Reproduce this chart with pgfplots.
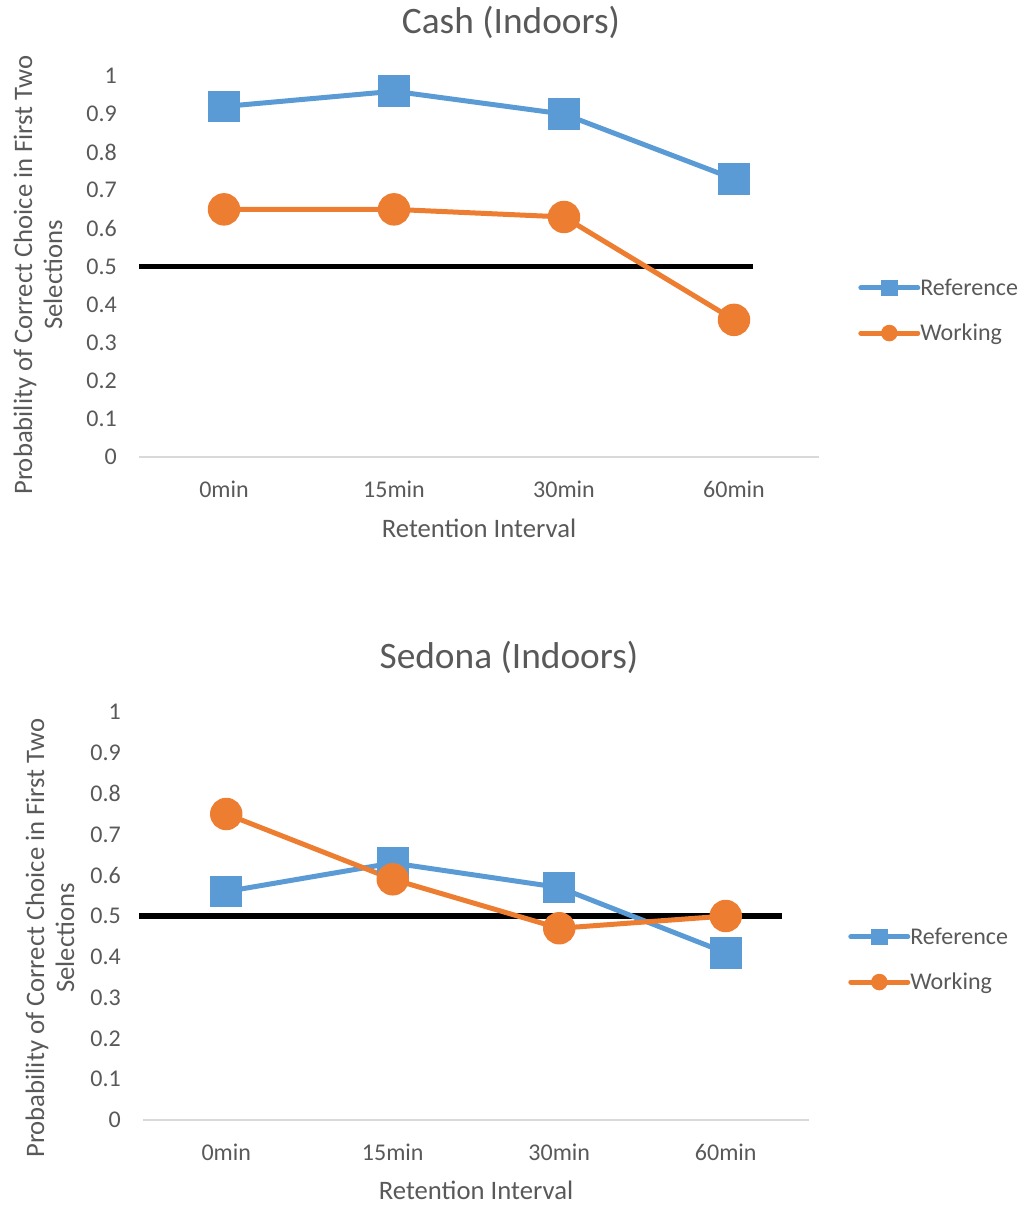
\documentclass[border=0pt]{standalone}
\usepackage{pgfplots}
\pgfplotsset{compat=1.18}
\usepackage{fontspec}
\setmainfont{Carlito}
\definecolor{blueS}{HTML}{5B9BD5}
\definecolor{orangeS}{HTML}{ED7D31}
\definecolor{txt}{HTML}{595959}
\definecolor{axg}{HTML}{D9D9D9}
\pgfplotsset{
  excel/.style={
    scale only axis,
    xmin=-0.5, xmax=3.5, ymin=0, ymax=1,
    clip=false,
    axis lines*=left,
    axis line style={-},
    x axis line style={draw=axg, line width=1.2pt},
    y axis line style={draw=none},
    major tick length=0pt,
    xtick={0,1,2,3},
    xticklabels={0min,15min,30min,60min},
    ytick={0,0.1,0.2,0.3,0.4,0.5,0.6,0.7,0.8,0.9,1},
    yticklabels={0,0.1,0.2,0.3,0.4,0.5,0.6,0.7,0.8,0.9,1},
    ticklabel style={font=\fontsize{18}{22}\selectfont, text=txt},
    xticklabel style={anchor=north, inner sep=0pt, yshift=-18pt},
    yticklabel style={anchor=east, inner sep=0pt, xshift=-16.5pt},
    label style={font=\fontsize{20}{22.5}\selectfont, text=txt},
    title style={font=\fontsize{28}{32}\selectfont, text=txt, anchor=center},
    xlabel={Retention Interval},
    ylabel={Probability of Correct Choice in First Two\\Selections},
    ylabel style={align=center, anchor=center, rotate=0},
    legend style={draw=none, fill=none, inner sep=0pt, anchor=west,
      font=\fontsize{18}{22}\selectfont, text=txt, row sep=17pt,
      nodes={inner xsep=0pt, inner ysep=1.5pt}},
    legend cell align=left,
    legend image code/.code={\draw[##1, mark repeat=2, mark phase=2, mark size=4.3pt, line cap=round]
       plot coordinates {(0pt,0pt) (21.4pt,0pt) (42.75pt,0pt)};},
  },
  refser/.style={color=blueS, line width=3.75pt, mark=square*, mark size=10pt, mark options={draw=none}},
  workser/.style={color=orangeS, line width=3.75pt, mark=*, mark size=10.3pt, mark options={draw=none}},
}
\begin{document}
\begin{tikzpicture}
\useasboundingbox (0,0) rectangle (771.75pt,-905.25pt);
% Top chart
\begin{axis}[excel,
  at={(104.25pt,-342.75pt)}, anchor=south west,
  width=510pt, height=285.75pt,
  title={Cash (Indoors)},
  title style={at={(axis description cs:0.547,1)}, yshift=34.5pt},
  xlabel style={at={(axis description cs:0.5,0)}, anchor=center, yshift=-53.25pt},
  ylabel style={at={(axis description cs:-0.1485,0.4777)}},
  legend style={at={(axis description cs:1.0574,0.3845)}},
]
\addplot[black, line width=4.2pt, forget plot] coordinates {(-0.5,0.5) (3.112,0.5)};
\addplot[refser] coordinates {(0,0.92) (1,0.96) (2,0.90) (3,0.73)};
\addlegendentry{Reference}
\addplot[workser] coordinates {(0,0.65) (1,0.65) (2,0.63) (3,0.36)};
\addlegendentry{Working}
\end{axis}
% Bottom chart
\begin{axis}[excel,
  at={(107.25pt,-840pt)}, anchor=south west,
  width=499.5pt, height=306pt,
  title={Sedona (Indoors)},
  title style={at={(axis description cs:0.5495,1)}, yshift=35.25pt},
  xlabel style={at={(axis description cs:0.5,0)}, anchor=center, yshift=-52.5pt},
  ylabel style={at={(axis description cs:-0.1396,0.446)}},
  legend style={at={(axis description cs:1.0586,0.3934)}},
]
\addplot[black, line width=4.2pt, forget plot] coordinates {(-0.524,0.5) (3.338,0.5)};
\addplot[refser] coordinates {(0,0.56) (1,0.63) (2,0.57) (3,0.41)};
\addlegendentry{Reference}
\addplot[workser] coordinates {(0,0.75) (1,0.59) (2,0.47) (3,0.50)};
\addlegendentry{Working}
\end{axis}
\end{tikzpicture}
\end{document}
